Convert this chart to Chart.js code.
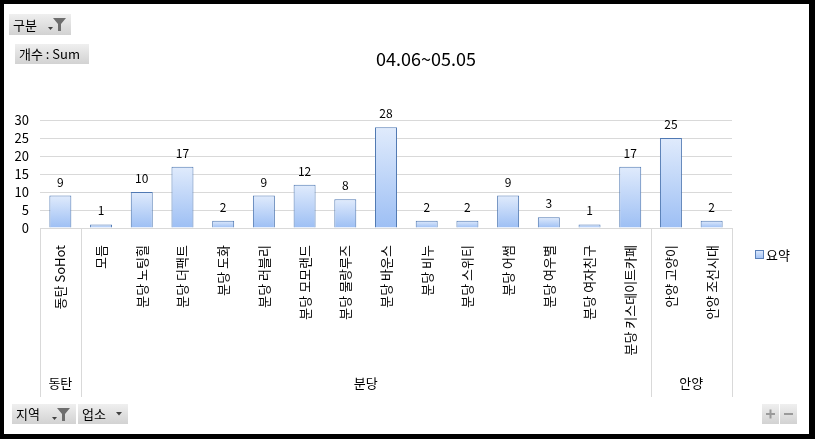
<!DOCTYPE html>
<html>
<head>
<meta charset="utf-8">
<script src="https://cdn.jsdelivr.net/npm/chart.js@4.4.0/dist/chart.umd.min.js"></script>
<style>
  html, body { margin: 0; padding: 0; background: #fff; }
  canvas { display: block; }
</style>
</head>
<body>
<canvas id="myChart" width="815" height="439"></canvas>
<script>
// data
var categories = ['동탄 SoHot', '모듬', '분당 노팅힐', '분당 더팩트', '분당 도화', '분당 러블리',
                  '분당 모모랜드', '분당 물랑루즈', '분당 바운스', '분당 비누', '분당 스위티',
                  '분당 어썸', '분당 여우별', '분당 여자친구', '분당 키스데이트카페',
                  '안양 고양이', '안양 조선시대'];
var values = [9, 1, 10, 17, 2, 9, 12, 8, 28, 2, 2, 9, 3, 1, 17, 25, 2];
var groups = ['동탄', '분당', '안양'];
var groupSizes = [1, 14, 2];
var yTicks = [0, 5, 10, 15, 20, 25, 30];
var titleText = '04.06~05.05';
var seriesName = '요약';

var FONT = "'Noto Sans CJK KR', 'Noto Sans', sans-serif";

function barFill(ctx, top, bottom)
{
    var g = ctx.createLinearGradient(0, top, 0, bottom);
    g.addColorStop(0, '#e0ebfc');
    g.addColorStop(1, '#9dbff4');
    return g;
}

function drawButton(ctx, x, y, w, h)
{
    var g = ctx.createLinearGradient(0, y, 0, y + h);
    g.addColorStop(0, '#efefef');
    g.addColorStop(1, '#d2d2d2');
    ctx.fillStyle = g;
    ctx.fillRect(x, y, w, h);
}

function drawFunnel(ctx, x, y)
{
    // little dropdown arrow + funnel
    ctx.fillStyle = '#404040';
    ctx.beginPath();
    ctx.moveTo(x, y + 9); ctx.lineTo(x + 5, y + 9); ctx.lineTo(x + 2.5, y + 12);
    ctx.closePath(); ctx.fill();
    ctx.fillStyle = '#6e6e6e';
    ctx.beginPath();
    ctx.moveTo(x + 5, y); ctx.lineTo(x + 18, y);
    ctx.lineTo(x + 13, y + 6); ctx.lineTo(x + 13, y + 13);
    ctx.lineTo(x + 10, y + 13); ctx.lineTo(x + 10, y + 6);
    ctx.closePath(); ctx.fill();
}

var decorations = {
    id: 'decorations',
    beforeDraw: function(chart)
    {
        var ctx = chart.ctx;
        ctx.save();
        ctx.fillStyle = '#fff';
        ctx.fillRect(0, 0, chart.width, chart.height);
        ctx.restore();
    },
    afterDraw: function(chart)
    {
        var ctx = chart.ctx;
        var area = chart.chartArea;
        var xs = chart.scales.x;
        var meta = chart.getDatasetMeta(0);
        ctx.save();

        // title
        ctx.fillStyle = '#000';
        ctx.font = '18px ' + FONT;
        ctx.textAlign = 'center';
        ctx.textBaseline = 'middle';
        ctx.fillText(titleText, 426, 59);

        // value labels
        ctx.font = '12px ' + FONT;
        ctx.textBaseline = 'alphabetic';
        meta.data.forEach(function(bar, i)
        {
            ctx.fillText(values[i], bar.x, bar.y - 9);
        });

        // group separators and group labels
        var half = (xs.getPixelForValue(1) - xs.getPixelForValue(0)) / 2;
        var bottom = xs.bottom;
        ctx.strokeStyle = '#d9d9d9';
        ctx.lineWidth = 1;
        var start = 0;
        var edges = [xs.getPixelForValue(0) - half];
        for (var g = 0; g < groups.length; g++)
        {
            var end = start + groupSizes[g] - 1;
            var left = xs.getPixelForValue(start) - half;
            var right = xs.getPixelForValue(end) + half;
            edges.push(right);
            ctx.font = '13px ' + FONT;
            ctx.textBaseline = 'middle';
            ctx.fillStyle = '#000';
            ctx.fillText(groups[g], (left + right) / 2, 383);
            start = end + 1;
        }
        edges.forEach(function(x)
        {
            ctx.beginPath();
            ctx.moveTo(Math.round(x) + 0.5, area.bottom);
            ctx.lineTo(Math.round(x) + 0.5, bottom);
            ctx.stroke();
        });

        // legend
        ctx.fillStyle = barFill(ctx, 250, 259);
        ctx.fillRect(755, 250, 8, 8);
        ctx.strokeStyle = '#5a80b8';
        ctx.strokeRect(755.5, 250.5, 8, 8);
        ctx.fillStyle = '#000';
        ctx.font = '13px ' + FONT;
        ctx.textAlign = 'left';
        ctx.fillText(seriesName, 766, 255);

        // pivot buttons
        ctx.font = '13px ' + FONT;
        drawButton(ctx, 9, 14, 62, 21);
        ctx.fillStyle = '#000';
        ctx.fillText('구분', 13, 25);
        drawFunnel(ctx, 48, 18);

        drawButton(ctx, 15, 44, 74, 20);
        ctx.fillStyle = '#000';
        ctx.fillText('개수 : Sum', 19, 54);

        drawButton(ctx, 12, 404, 64, 20);
        ctx.fillStyle = '#000';
        ctx.fillText('지역', 16, 414);
        drawFunnel(ctx, 52, 408);

        drawButton(ctx, 78, 404, 50, 20);
        ctx.fillStyle = '#000';
        ctx.fillText('업소', 82, 414);
        ctx.fillStyle = '#404040';
        ctx.beginPath();
        ctx.moveTo(116, 412); ctx.lineTo(122, 412); ctx.lineTo(119, 415.5);
        ctx.closePath(); ctx.fill();

        drawButton(ctx, 762, 404, 17, 20);
        drawButton(ctx, 780, 404, 17, 20);
        ctx.fillStyle = '#9a9a9a';
        ctx.fillRect(766, 413, 9, 2);
        ctx.fillRect(769.5, 409.5, 2, 9);
        ctx.fillRect(784, 413, 9, 2);

        // outer frame
        ctx.fillStyle = '#000';
        ctx.fillRect(0, 0, 815, 4);
        ctx.fillRect(0, 0, 4, 439);
        ctx.fillRect(809, 0, 6, 439);
        ctx.fillRect(0, 434, 815, 5);

        ctx.restore();
    }
};

var ctx = document.getElementById('myChart').getContext('2d');

var myChart = new Chart(ctx,
{
    type: 'bar',
    data:
    {
        labels: categories,
        datasets:
        [{
            label: seriesName,
            data: values,
            backgroundColor: function(c)
            {
                var chart = c.chart;
                if (c.type !== 'data' || !chart.chartArea) return '#c4d8f8';
                var ys = chart.scales.y;
                var top = ys.getPixelForValue(c.raw);
                var bottom = ys.getPixelForValue(0);
                return barFill(chart.ctx, top, bottom);
            },
            borderColor: '#5079b3',
            borderWidth: 1,
            borderSkipped: 'bottom',
            categoryPercentage: 1,
            barPercentage: 0.54
        }]
    },
    plugins: [decorations],
    options:
    {
        responsive: false,
        animation: false,
        layout: { padding: { left: 10, right: 83, top: 120, bottom: 42 } },
        plugins:
        {
            legend: { display: false },
            title: { display: false },
            tooltip: { enabled: false }
        },
        scales:
        {
            x:
            {
                offset: true,
                grid: { display: false },
                border: { display: true, color: '#d9d9d9' },
                ticks:
                {
                    autoSkip: false,
                    minRotation: 90,
                    maxRotation: 90,
                    padding: 9,
                    color: '#000',
                    font: { family: FONT, size: 13 }
                },
                afterFit: function(scale) { scale.height = 169; }
            },
            y:
            {
                min: yTicks[0],
                max: yTicks[yTicks.length - 1],
                afterBuildTicks: function(scale)
                {
                    scale.ticks = yTicks.map(function(v) { return { value: v }; });
                },
                grid: { color: '#d9d9d9', drawTicks: false },
                border: { display: false },
                ticks:
                {
                    autoSkip: false,
                    padding: 11,
                    color: '#000',
                    font: { family: FONT, size: 13 }
                },
                afterFit: function(scale) { scale.width = 30; }
            }
        }
    }
});
</script>
</body>
</html>
